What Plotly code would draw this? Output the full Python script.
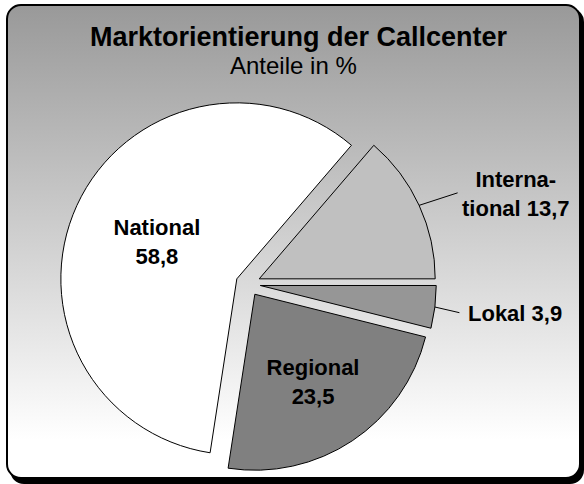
import base64
import math
import plotly.graph_objects as go

# ---- data ----
labels = ["Lokal", "Regional", "National", "International"]
label_text = ["Lokal", "Regional", "National", "Interna-<br>tional"]
values = [3.9, 23.5, 58.8, 13.7]
colors = ["#969696", "#808080", "#ffffff", "#c0c0c0"]
inside = [False, True, True, False]
title_text = "Marktorientierung der Callcenter"
subtitle_text = "Anteile in %"

W, H = 584, 484
PULL = 0.07
DOM_X = [0.1, 0.7494]
DOM_Y = [0.0242, 0.8023]

svg = f'''<svg xmlns="http://www.w3.org/2000/svg" width="{W}" height="{H}" viewBox="0 0 {W} {H}" preserveAspectRatio="none">
<defs><linearGradient id="g" x1="0" y1="0" x2="0" y2="1">
<stop offset="0" stop-color="#999999"/><stop offset="0.92" stop-color="#ffffff"/><stop offset="1" stop-color="#ffffff"/></linearGradient></defs>
<rect x="10" y="8" width="574" height="476" rx="14" ry="14" fill="#000000"/>
<rect x="7" y="5" width="573" height="473" rx="14" ry="14" fill="url(#g)" stroke="#000000" stroke-width="2"/>
</svg>'''
bg_uri = "data:image/svg+xml;base64," + base64.b64encode(svg.encode()).decode()

font = "Liberation Sans, Arial, sans-serif"
lab_font = dict(family=font, size=22, color="#000000", weight="bold")

templates = [
    "%{text}<br>%{value:.1f}" if ins else ""
    for ins in inside
]

fig = go.Figure(
    go.Pie(
        labels=labels,
        values=values,
        text=label_text,
        sort=False,
        direction="clockwise",
        rotation=90,
        pull=[PULL] * len(values),
        marker=dict(colors=colors, line=dict(color="#000000", width=1)),
        texttemplate=templates,
        textposition="inside",
        insidetextorientation="horizontal",
        textfont=lab_font,
        hoverinfo="label+value",
        showlegend=False,
        domain=dict(x=DOM_X, y=DOM_Y),
    )
)

# pie geometry as plotly computes it (for leader-line anchors of outside labels)
box_w = W * (DOM_X[1] - DOM_X[0])
box_h = H * (DOM_Y[1] - DOM_Y[0])
r = min(box_w, box_h) / 2 / (1 + PULL)
cx = W * (DOM_X[0] + DOM_X[1]) / 2
cy = H * (1 - DOM_Y[0]) - box_h / 2

total = sum(values)
offsets = {0: (26, 6), 3: (40, -13)}     # leader-line length (px)
text_offsets = {0: (80, 6), 3: (97, -11)}  # label position relative to anchor (px)
annotations = []
cum = 0.0
for i, v in enumerate(values):
    mid = -(cum + v / 2) / total * 2 * math.pi
    cum += v
    if inside[i]:
        continue
    tx = cx + r * (1 + PULL) * math.cos(mid)
    ty = cy - r * (1 + PULL) * math.sin(mid)
    xp, yp = tx / W, 1 - ty / H
    lx, ly = offsets[i]
    annotations.append(dict(
        x=xp, y=yp, xref="paper", yref="paper", text=" ",
        showarrow=True, arrowhead=0, arrowwidth=1, arrowcolor="#000000",
        ax=lx, ay=ly, font=dict(size=1), standoff=0, startstandoff=0,
    ))
    dx, dy = text_offsets[i]
    val = f"{v:.1f}".replace(".", ",")
    annotations.append(dict(
        x=xp, y=yp, xref="paper", yref="paper",
        text=f"{label_text[i]} {val}", showarrow=True, arrowwidth=0.1,
        arrowcolor="rgba(0,0,0,0)", ax=dx, ay=dy,
        font=lab_font, align="center",
    ))

annotations += [
    dict(x=299 / W, y=1 - 37.4 / H, xref="paper", yref="paper",
         text=f"<b>{title_text}</b>", showarrow=False,
         font=dict(family=font, size=27, color="#000000"),
         xanchor="center", yanchor="middle"),
    dict(x=293 / W, y=1 - 65.3 / H, xref="paper", yref="paper",
         text=subtitle_text, showarrow=False,
         font=dict(family=font, size=24, color="#000000"),
         xanchor="center", yanchor="middle"),
]

fig.update_layout(
    width=W,
    height=H,
    autosize=False,
    margin=dict(l=0, r=0, t=0, b=0),
    paper_bgcolor="#ffffff",
    separators=",.",
    font=dict(family=font, color="#000000"),
    annotations=annotations,
    images=[dict(
        source=bg_uri, xref="paper", yref="paper", x=0, y=1,
        sizex=1, sizey=1, sizing="stretch", layer="below",
        xanchor="left", yanchor="top",
    )],
)

fig.write_html(
    "out.html",
    config={"responsive": False, "displayModeBar": False},
    post_script="document.body.style.margin='0';document.body.style.overflow='hidden';window.scrollTo(0,0);",
)
